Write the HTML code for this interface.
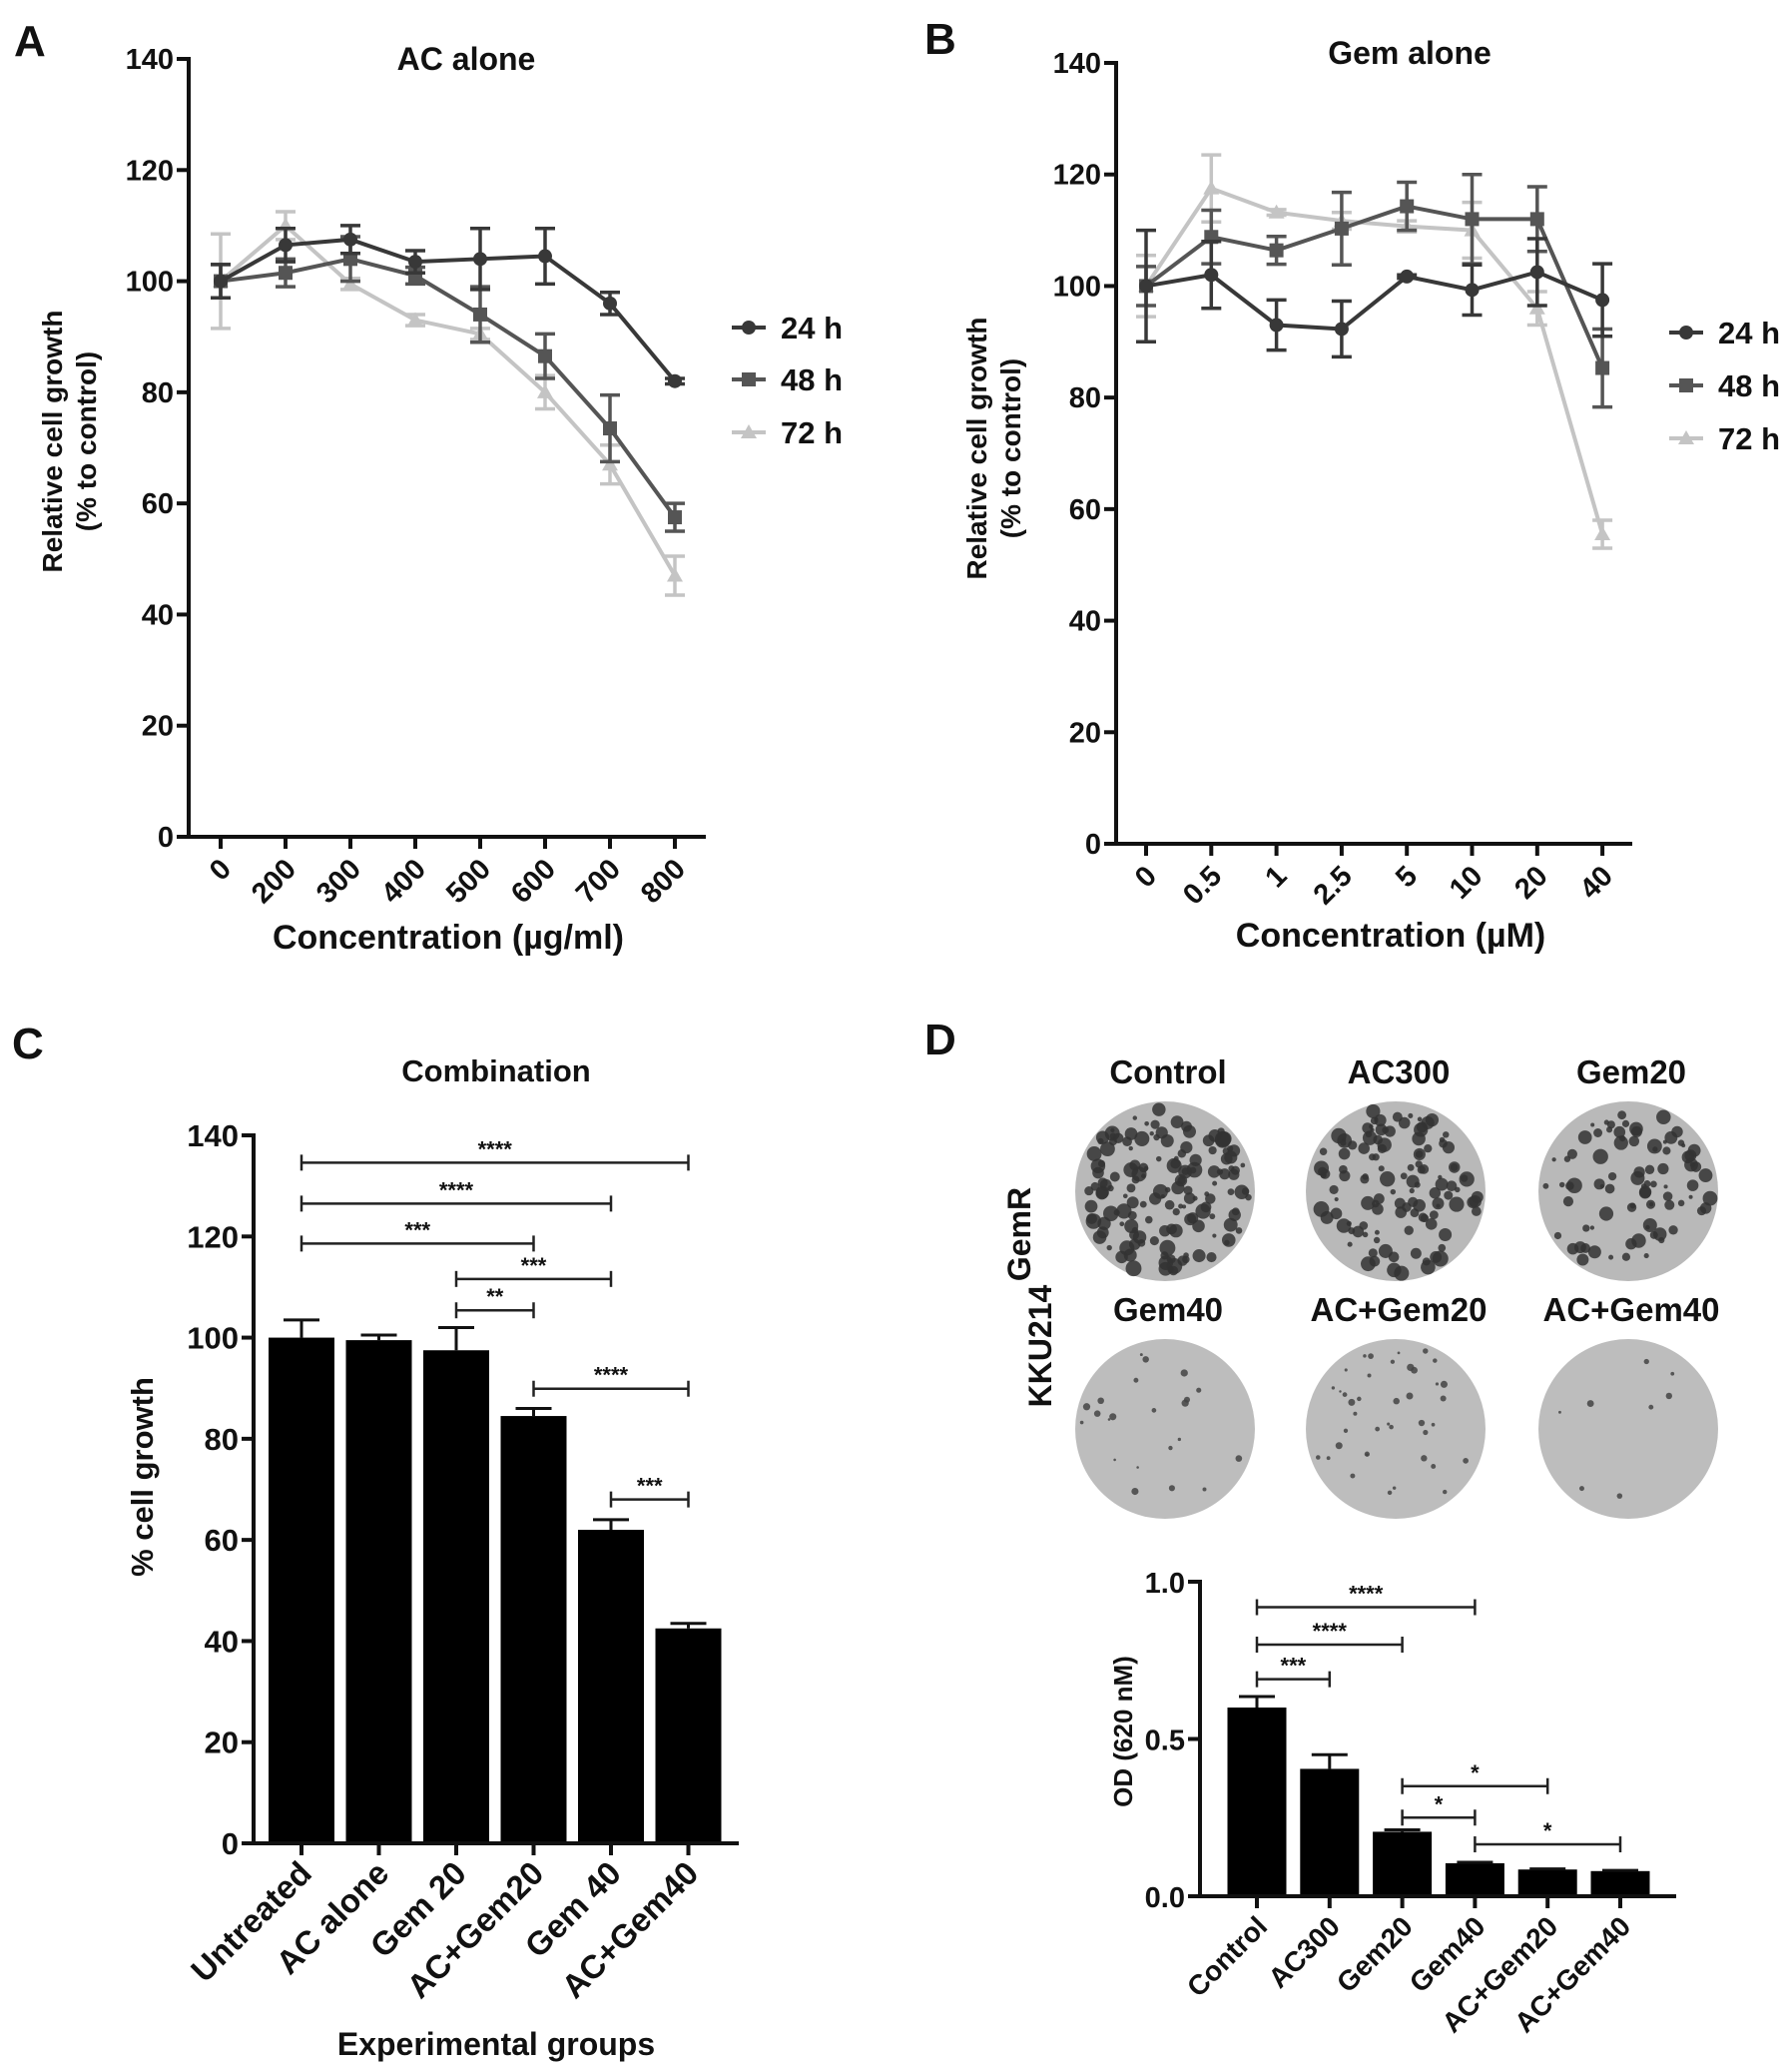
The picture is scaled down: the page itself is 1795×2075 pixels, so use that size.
<!DOCTYPE html>
<html><head><meta charset="utf-8"><style>
html,body{margin:0;padding:0;background:#fff}
svg{display:block;font-family:"Liberation Sans",Arial,sans-serif;font-weight:bold}
</style></head><body>
<svg id="fig" width="1795" height="2075" viewBox="0 0 1795 2075" xmlns="http://www.w3.org/2000/svg"></svg>
<script>
// ---------- Panel A data ----------
const aCats = ["0","200","300","400","500","600","700","800"];
const a24 = [100,106.5,107.5,103.5,104,104.5,96,82];
const a24e = [3,3,2.5,2,5.5,5,2,0.5];
const a48 = [100,101.5,104,101,94,86.5,73.5,57.5];
const a48e = [3,2.5,4,1.5,5,4,6,2.5];
const a72 = [100,110,99.5,93,90.5,80,67,47];
const a72e = [8.5,2.5,1,1,1,3,3.5,3.5];
// ---------- Panel B data ----------
const bCats = ["0","0.5","1","2.5","5","10","20","40"];
const b24 = [100,102,93,92.3,101.7,99.3,102.5,97.5];
const b24e = [10,6,4.5,5,0.3,4.5,6,6.5];
const b48 = [100,108.8,106.4,110.3,114.3,112,112,85.3];
const b48e = [3.5,4.8,2.5,6.5,4.3,8,5.8,7];
const b72 = [100,117.5,113.2,111.7,110.7,110,96,55.5];
const b72e = [5.5,6,0.5,1.5,1,5,3,2.5];
const lineTicks = [0,20,40,60,80,100,120,140];
// ---------- Panel C data ----------
const cCats = ["Untreated","AC alone","Gem 20","AC+Gem20","Gem 40","AC+Gem40"];
const cVals = [100,99.5,97.5,84.5,62,42.5];
const cErr = [3.5,1,4.5,1.5,2,1];
const cSig = [[0,5,134.6,"****"],[0,4,126.5,"****"],[0,3,118.6,"***"],[2,4,111.6,"***"],[2,3,105.4,"**"],[3,5,89.9,"****"],[4,5,68,"***"]];
// ---------- Panel D data ----------
const dCats = ["Control","AC300","Gem20","Gem40","AC+Gem20","AC+Gem40"];
const dVals = [0.60,0.405,0.205,0.105,0.085,0.08];
const dErr = [0.035,0.045,0.006,0.003,0.002,0.002];
const dSig = [[0,3,0.919,"****"],[0,2,0.80,"****"],[0,1,0.69,"***"],[2,4,0.35,"*"],[2,3,0.25,"*"],[3,5,0.165,"*"]];
const dTicks = ["0.0","0.5","1.0"];
const dTickVals = [0,0.5,1];
const plateDensity = [150,120,85,22,40,8];

const NS="http://www.w3.org/2000/svg";
const svg=document.getElementById('fig');
function el(tag,attrs,parent,text){const e=document.createElementNS(NS,tag);for(const k in attrs)e.setAttribute(k,attrs[k]);if(text!==undefined)e.textContent=text;(parent||svg).appendChild(e);return e;}
function grp(name){const g=el('g',{});


return g;}
function txt(parent,x,y,s,size,name,extra){const t=el('text',Object.assign({x:x,y:y,'font-size':size,fill:'#111'},extra||{}),parent,s);


return t;}

// ---------- line panel ----------
function linePanel(cfg){
  const g=grp(cfg.name);
  const ys=v=>cfg.y0+(cfg.y140-cfg.y0)*v/140;
  const xs=i=>cfg.x0+i*cfg.pitch;
  el('line',{x1:cfg.ax,y1:cfg.y140-2,x2:cfg.ax,y2:cfg.y0,stroke:'#111','stroke-width':4},g);
  el('line',{x1:cfg.ax,y1:cfg.y0,x2:cfg.axr,y2:cfg.y0,stroke:'#111','stroke-width':4},g);
  lineTicks.forEach(v=>{el('line',{x1:cfg.ax-12,y1:ys(v),x2:cfg.ax,y2:ys(v),stroke:'#111','stroke-width':4},g);
    txt(g,cfg.ax-15,ys(v)+10,String(v),29,'y-tick-label',{'text-anchor':'end'});});
  cfg.cats.forEach((c,i)=>{el('line',{x1:xs(i),y1:cfg.y0,x2:xs(i),y2:cfg.y0+12,stroke:'#111','stroke-width':4},g);
    txt(g,xs(i)+12,cfg.y0+34,c,29,'x-tick-label',{'text-anchor':'end',transform:`rotate(-45 ${xs(i)+12} ${cfg.y0+34})`});});
  const series=[[cfg.s72,cfg.e72,'#c4c4c4','tri','72 h'],[cfg.s48,cfg.e48,'#555','sq','48 h'],[cfg.s24,cfg.e24,'#383838','dot','24 h']];
  series.forEach(([vals,errs,col,mk,lab])=>{
    const sg=el('g',{},g);
    
    
    el('polyline',{points:vals.map((v,i)=>xs(i)+','+ys(v)).join(' '),fill:'none',stroke:col,'stroke-width':4},sg);
    vals.forEach((v,i)=>{const x=xs(i);
      el('line',{x1:x,y1:ys(v+errs[i]),x2:x,y2:ys(v-errs[i]),stroke:col,'stroke-width':3.5},sg);
      el('line',{x1:x-10,y1:ys(v+errs[i]),x2:x+10,y2:ys(v+errs[i]),stroke:col,'stroke-width':3.5},sg);
      el('line',{x1:x-10,y1:ys(v-errs[i]),x2:x+10,y2:ys(v-errs[i]),stroke:col,'stroke-width':3.5},sg);
      marker(sg,mk,x,ys(v),col);});
  });
  const items=[['24 h','#383838','dot'],['48 h','#555','sq'],['72 h','#c4c4c4','tri']];
  items.forEach((it,k)=>{const y=cfg.legY[k];
    const lg=el('g',{},g);
    
    
    el('line',{x1:cfg.legX,y1:y,x2:cfg.legX+34,y2:y,stroke:it[1],'stroke-width':4},lg);
    marker(lg,it[2],cfg.legX+17,y,it[1]);
    txt(lg,cfg.legX+49,y+11,it[0],31,'legend-label');});
  txt(g,cfg.titleX,cfg.titleY,cfg.title,32,'chart-title',{'text-anchor':'middle'});
  txt(g,cfg.xtX,cfg.xtY,cfg.xtitle,34,'x-axis-title',{'text-anchor':'middle'});
  txt(g,0,0,'Relative cell growth',28,'y-axis-title',{'text-anchor':'middle',transform:`translate(${cfg.ytX} ${cfg.ytY}) rotate(-90)`});
  txt(g,0,0,'(% to control)',28,'y-axis-title-units',{'text-anchor':'middle',transform:`translate(${cfg.ytX+34} ${cfg.ytY}) rotate(-90)`});
  txt(g,cfg.letX,cfg.letY,cfg.letter,44,'panel-label');
}
function marker(p,mk,x,y,col){
  if(mk==='dot')el('circle',{cx:x,cy:y,r:7,fill:col},p);
  else if(mk==='sq')el('rect',{x:x-7,y:y-7,width:14,height:14,fill:col},p);
  else el('polygon',{points:`${x},${y-8} ${x-8},${y+6} ${x+8},${y+6}`,fill:col},p);
}
linePanel({name:'panel-a-chart',ax:189,axr:707,y0:838,y140:59,x0:221,pitch:65,cats:aCats,s24:a24,e24:a24e,s48:a48,e48:a48e,s72:a72,e72:a72e,
  legX:733,legY:[328,380,433],title:'AC alone',titleX:467,titleY:70,xtitle:'Concentration (µg/ml)',xtX:449,xtY:950,ytX:62,ytY:442,letter:'A',letX:14,letY:56});
linePanel({name:'panel-b-chart',ax:1118,axr:1635,y0:845,y140:63,x0:1148,pitch:65.3,cats:bCats,s24:b24,e24:b24e,s48:b48,e48:b48e,s72:b72,e72:b72e,
  legX:1672,legY:[333,386,439],title:'Gem alone',titleX:1412,titleY:64,xtitle:'Concentration (µM)',xtX:1393,xtY:948,ytX:988,ytY:449,letter:'B',letX:926,letY:54});

// ---------- bar panel ----------
function barPanel(cfg){
  const g=grp(cfg.name);
  const ys=v=>cfg.y0-(cfg.y0-cfg.ytop)*v/cfg.vmax;
  const xs=i=>cfg.x0+i*cfg.pitch;
  cfg.vals.forEach((v,i)=>{
    const r=el('rect',{x:xs(i)-cfg.bw/2,y:ys(v),width:cfg.bw,height:cfg.y0-ys(v),fill:'#000'},g);
    
    
    const t=ys(v+cfg.errs[i]);
    el('line',{x1:xs(i),y1:t,x2:xs(i),y2:ys(v),stroke:'#111','stroke-width':3},g);
    el('line',{x1:xs(i)-18,y1:t,x2:xs(i)+18,y2:t,stroke:'#111','stroke-width':3},g);
  });
  el('line',{x1:cfg.ax,y1:cfg.ytop-2,x2:cfg.ax,y2:cfg.y0,stroke:'#111','stroke-width':4},g);
  el('line',{x1:cfg.ax,y1:cfg.y0,x2:cfg.axr,y2:cfg.y0,stroke:'#111','stroke-width':4},g);
  cfg.tickVals.forEach((v,k)=>{el('line',{x1:cfg.ax-12,y1:ys(v),x2:cfg.ax,y2:ys(v),stroke:'#111','stroke-width':4},g);
    txt(g,cfg.ax-15,ys(v)+11,cfg.tickLabels[k],cfg.tfs,'y-tick-label',{'text-anchor':'end'});});
  cfg.cats.forEach((c,i)=>{el('line',{x1:xs(i),y1:cfg.y0,x2:xs(i),y2:cfg.y0+12,stroke:'#111','stroke-width':4},g);
    txt(g,xs(i)+12,cfg.y0+32,c,cfg.xfs,'x-tick-label',{'text-anchor':'end',transform:`rotate(-45 ${xs(i)+12} ${cfg.y0+32})`});});
  cfg.sig.forEach(s=>{const y=ys(s[2]),x1=xs(s[0]),x2=xs(s[1]);
    const sg=el('g',{},g);
    
    
    el('line',{x1:x1,y1:y,x2:x2,y2:y,stroke:'#222','stroke-width':2.5},sg);
    el('line',{x1:x1,y1:y-8,x2:x1,y2:y+8,stroke:'#222','stroke-width':2.5},sg);
    el('line',{x1:x2,y1:y-8,x2:x2,y2:y+8,stroke:'#222','stroke-width':2.5},sg);
    txt(sg,(x1+x2)/2,y-6,s[3],22,'significance-stars',{'text-anchor':'middle'});});
}
const cTicks=lineTicks;
barPanel({name:'panel-c-chart',ax:254,axr:740,y0:1846,ytop:1137,vmax:140,x0:302,pitch:77.5,bw:66,cats:cCats,vals:cVals,errs:cErr,sig:cSig,
  tickVals:cTicks,tickLabels:cTicks.map(String),tfs:31,xfs:33});
const cg=grp('panel-c-labels');
txt(cg,497,1083,'Combination',31,'chart-title',{'text-anchor':'middle'});
txt(cg,497,2058,'Experimental groups',32,'x-axis-title',{'text-anchor':'middle'});
txt(cg,0,0,'% cell growth',31,'y-axis-title',{'text-anchor':'middle',transform:'translate(153 1479) rotate(-90)'});
txt(cg,12,1060,'C',44,'panel-label');

barPanel({name:'panel-d-chart',ax:1202,axr:1679,y0:1899,ytop:1584,vmax:1,x0:1259,pitch:72.8,bw:59,cats:dCats,vals:dVals,errs:dErr,sig:dSig,
  tickVals:dTickVals,tickLabels:dTicks,tfs:29,xfs:28});
const dg=grp('panel-d-labels');
txt(dg,0,0,'OD (620 nM)',26,'y-axis-title',{'text-anchor':'middle',transform:'translate(1134 1734) rotate(-90)'});
txt(dg,926,1056,'D',44,'panel-label');
txt(dg,0,0,'KKU214',32,'cell-line-label',{'text-anchor':'middle',transform:'translate(1053 1348) rotate(-90)'});
txt(dg,0,0,'GemR',32,'cell-line-superscript',{'text-anchor':'middle',transform:'translate(1032 1236) rotate(-90)'});

// colony plates
const plateX=[1167,1398,1631], plateY=[1193,1431];
let seed=7;function rnd(){seed=(seed*16807)%2147483647;return seed/2147483647;}
dCats.forEach((c,i)=>{
  const cx=plateX[i%3], cy=plateY[Math.floor(i/3)];
  const pg=el('g',{},dg);
  
  
  txt(pg,cx+3,cy-108,c,33,'plate-label',{'text-anchor':'middle'});
  el('circle',{cx:cx,cy:cy,r:90,fill:i<3?'#b9b9b9':'#bdbdbd'},pg);
  const n=plateDensity[i];
  for(let k=0;k<n;k++){const a=rnd()*6.283,rr=84*Math.sqrt(rnd());
    const size=(i<3?2+rnd()*6:1.2+rnd()*2.5);
    el('circle',{cx:cx+rr*Math.cos(a),cy:cy+rr*Math.sin(a),r:size,fill:i<3?'#333':'#444','fill-opacity':0.85},pg);}
});
</script>
</body></html>
